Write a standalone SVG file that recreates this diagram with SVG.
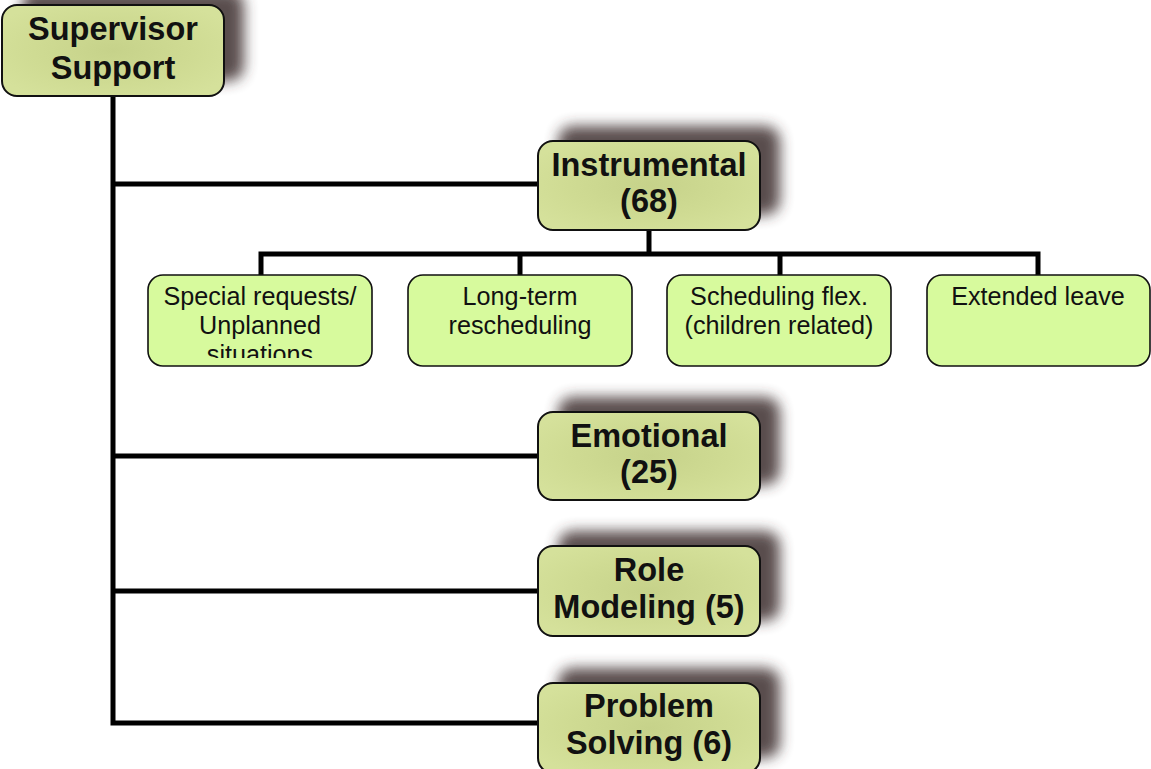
<svg xmlns="http://www.w3.org/2000/svg" width="1151" height="769" viewBox="0 0 1151 769">
<defs>
<filter id="sh" x="-30%" y="-50%" width="160%" height="200%">
<feGaussianBlur stdDeviation="7"/>
</filter>
<radialGradient id="mg" cx="50%" cy="50%" r="60%">
<stop offset="0" stop-color="#c6d28a"/>
<stop offset="0.6" stop-color="#cfdb93"/>
<stop offset="1" stop-color="#d5e19b"/>
</radialGradient>
<clipPath id="c1"><rect x="148" y="275" width="224" height="83"/></clipPath>
<style>
.shadow{fill:#3e2e2e;opacity:0.85;filter:url(#sh)}
.main{fill:url(#mg);stroke:#111;stroke-width:2}
.sub{fill:#d7fa9d;stroke:#111;stroke-width:1.6}
.mt{font-family:"Liberation Sans",Arial,Helvetica,sans-serif;font-weight:bold;font-size:32.5px;fill:#111;text-anchor:middle}
.st{font-family:"Liberation Sans",Arial,Helvetica,sans-serif;font-size:25.2px;fill:#111;text-anchor:middle}
.ln{fill:none;stroke:#000;stroke-width:5}
</style>
</defs>
<rect width="1151" height="769" fill="#fff"/>
<g id="connectors">
<polyline class="ln" points="113,96 113,723 538,723"/>
<line class="ln" x1="113" y1="184" x2="538" y2="184"/>
<line class="ln" x1="113" y1="456" x2="538" y2="456"/>
<line class="ln" x1="113" y1="591" x2="538" y2="591"/>
<line class="ln" x1="649" y1="230" x2="649" y2="254"/>
<polyline class="ln" points="261,276 261,254 1038,254 1038,276"/>
<line class="ln" x1="520" y1="254" x2="520" y2="276"/>
<line class="ln" x1="780" y1="254" x2="780" y2="276"/>
</g>
<g id="supervisor">
<rect class="shadow" x="22" y="-10" width="222" height="91" rx="15"/>
<rect class="main" x="2" y="5" width="222" height="91" rx="15"/>
<text class="mt" x="113" y="40">Supervisor</text>
<text class="mt" x="113" y="79">Support</text>
</g>
<g id="instrumental">
<rect class="shadow" x="558" y="126" width="222" height="89" rx="15"/>
<rect class="main" x="538" y="141" width="222" height="89" rx="15"/>
<text class="mt" x="649" y="176">Instrumental</text>
<text class="mt" x="649" y="212">(68)</text>
</g>
<g id="special">
<rect class="sub" x="148" y="275" width="224" height="91" rx="15"/>
<g clip-path="url(#c1)">
<text class="st" x="260" y="305">Special requests/</text>
<text class="st" x="260" y="334">Unplanned</text>
<text class="st" x="260" y="363">situations</text>
</g>
</g>
<g id="longterm">
<rect class="sub" x="408" y="275" width="224" height="91" rx="15"/>
<text class="st" x="520" y="305">Long-term</text>
<text class="st" x="520" y="334">rescheduling</text>
</g>
<g id="scheduling">
<rect class="sub" x="667" y="275" width="224" height="91" rx="15"/>
<text class="st" x="779" y="305">Scheduling flex.</text>
<text class="st" x="779" y="334">(children related)</text>
</g>
<g id="extended">
<rect class="sub" x="927" y="275" width="223" height="91" rx="15"/>
<text class="st" x="1038" y="305">Extended leave</text>
</g>
<g id="emotional">
<rect class="shadow" x="558" y="397" width="222" height="88" rx="15"/>
<rect class="main" x="538" y="412" width="222" height="88" rx="15"/>
<text class="mt" x="649" y="447">Emotional</text>
<text class="mt" x="649" y="483">(25)</text>
</g>
<g id="role">
<rect class="shadow" x="558" y="531" width="222" height="90" rx="15"/>
<rect class="main" x="538" y="546" width="222" height="90" rx="15"/>
<text class="mt" x="649" y="581">Role</text>
<text class="mt" x="649" y="618">Modeling (5)</text>
</g>
<g id="problem">
<rect class="shadow" x="558" y="668" width="222" height="90" rx="15"/>
<rect class="main" x="538" y="683" width="222" height="90" rx="15"/>
<text class="mt" x="649" y="717">Problem</text>
<text class="mt" x="649" y="754">Solving (6)</text>
</g>
</svg>
